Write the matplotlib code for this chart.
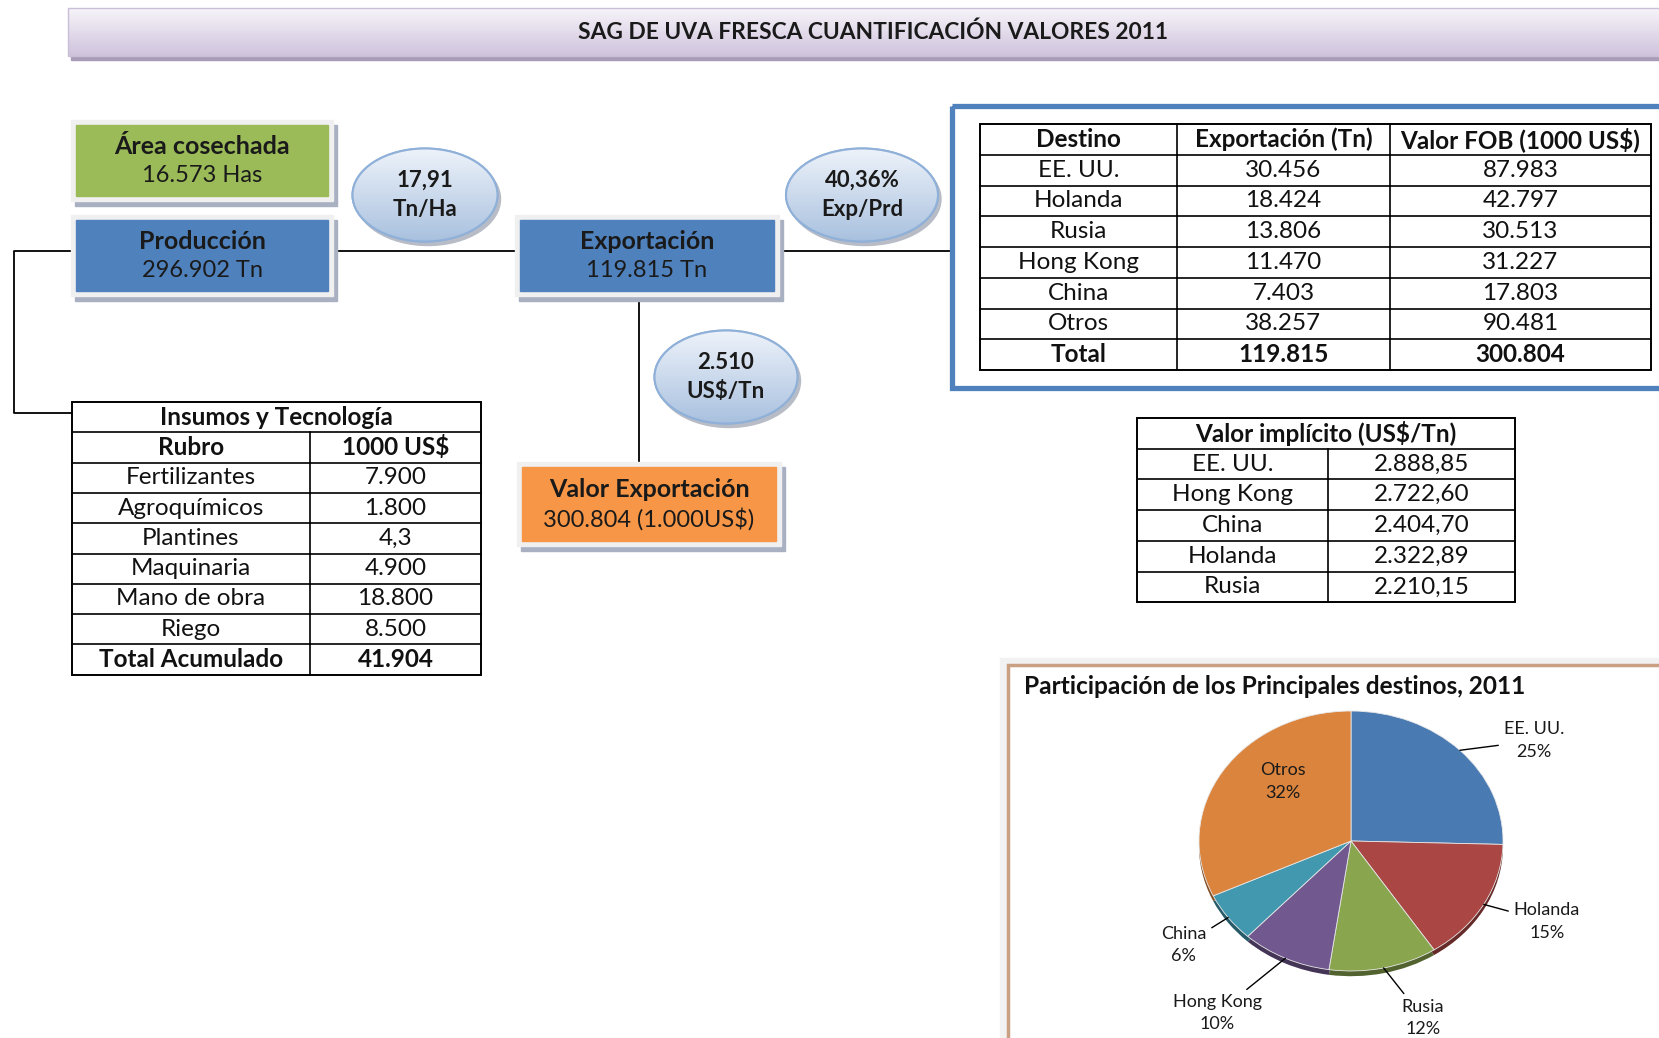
import numpy as np
import matplotlib.pyplot as plt
import matplotlib.colors as mcolors
from matplotlib.patches import Rectangle, Ellipse

plt.rcParams['font.family'] = ['Lato', 'DejaVu Sans']

W, H = 1659, 1038

# ---- data ----
titulo = 'SAG DE UVA FRESCA CUANTIFICACIÓN VALORES 2011'
area_cosechada = '16.573 Has'
produccion = '296.902 Tn'
exportacion = '119.815 Tn'
valor_exportacion = '300.804 (1.000US$)'
rendimiento = '17,91\nTn/Ha'
exp_prd = '40,36%\nExp/Prd'
precio = '2.510\nUS$/Tn'

destinos = ['EE. UU.', 'Holanda', 'Rusia', 'Hong Kong', 'China', 'Otros']
exp_tn = [30456, 18424, 13806, 11470, 7403, 38257]
fob = [87983, 42797, 30513, 31227, 17803, 90481]
total_exp = 119815
total_fob = 300804

rubros = ['Fertilizantes', 'Agroquímicos', 'Plantines', 'Maquinaria', 'Mano de obra', 'Riego']
montos = ['7.900', '1.800', '4,3', '4.900', '18.800', '8.500']
total_insumos = '41.904'

impl_dest = ['EE. UU.', 'Hong Kong', 'China', 'Holanda', 'Rusia']
impl_val = [2888.85, 2722.60, 2404.70, 2322.89, 2210.15]

pie_colors = ['#4a7ab2', '#aa4643', '#89a54e', '#71588f', '#4198af', '#db843d']
# label placement: radial distance and angle nudge (deg) per slice
label_dist = [1.43, 1.43, 1.44, 1.59, 1.36, 0.64]
label_nudge = [-11.6, 3.5, 6.8, -8, 0, -13]


def fmt_int(v):
    return f'{v:,}'.replace(',', '.')


def fmt_dec(v):
    return f'{v:,.2f}'.replace(',', 'X').replace('.', ',').replace('X', '.')


fig = plt.figure(figsize=(W / 100, H / 100), dpi=100)
ax = fig.add_axes([0, 0, 1, 1])


def gradient(patch, top, bottom, x0, x1, y0, y1, z):
    patch.set_zorder(z)
    ax.add_patch(patch)
    c0 = np.array(mcolors.to_rgb(top))
    c1 = np.array(mcolors.to_rgb(bottom))
    t = np.linspace(0, 1, 256)[:, None, None]
    img = c0 + (c1 - c0) * t
    im = ax.imshow(img, extent=(x0, x1, y1, y0), aspect='auto', origin='upper', zorder=z)
    im.set_clip_path(patch)


def box(x, y, w, h, color, title, value):
    ax.add_patch(Rectangle((x + 4, y + 5), w, h, color='#a9b0c2', zorder=2))
    ax.add_patch(Rectangle((x, y), w, h, color='#f0f0f0', zorder=3))
    ax.add_patch(Rectangle((x + 5, y + 5), w - 10, h - 10, color=color, zorder=4))
    ax.text(x + w / 2, y + h * 0.33, title, ha='center', va='center',
            fontsize=18, fontweight='bold', color='#1a1a1a', zorder=5)
    ax.text(x + w / 2, y + h * 0.68, value, ha='center', va='center',
            fontsize=17, color='#1a1a1a', zorder=5)


def bubble(cx, cy, w, h, text):
    ax.add_patch(Ellipse((cx + 3, cy + 4), w, h, color='#b8bcc6', zorder=2))
    e = Ellipse((cx, cy), w, h, facecolor='none', edgecolor='#8fb0d8', lw=1.5)
    gradient(e, '#eef3fa', '#a9c1df', cx - w / 2, cx + w / 2, cy - h / 2, cy + h / 2, 3)
    ax.add_patch(Ellipse((cx, cy), w, h, facecolor='none', edgecolor='#8fb0d8', lw=1.5, zorder=4))
    ax.text(cx, cy, text, ha='center', va='center', fontsize=16, fontweight='bold',
            color='#1a1a1a', linespacing=1.45, zorder=5)


def table(xs, y0, rh, rows, bold_rows, fs=17.5):
    n = len(rows)
    ax.add_patch(Rectangle((xs[0], y0), xs[-1] - xs[0], n * rh, fill=False, lw=1.4,
                           ec='black', zorder=5))
    for i, row in enumerate(rows):
        yt = y0 + i * rh
        wt = 'bold' if i in bold_rows else 'normal'
        if i > 0:
            ax.plot([xs[0], xs[-1]], [yt, yt], color='black', lw=1.2, zorder=5)
        if len(row) == 1:
            ax.text((xs[0] + xs[-1]) / 2, yt + rh / 2, row[0], ha='center', va='center',
                    fontsize=fs, fontweight=wt, color='#111111', zorder=6)
            continue
        for j, cell in enumerate(row):
            if j > 0:
                ax.plot([xs[j], xs[j]], [yt, yt + rh], color='black', lw=1.2, zorder=5)
            ax.text((xs[j] + xs[j + 1]) / 2, yt + rh / 2, cell, ha='center', va='center',
                    fontsize=fs, fontweight=wt, color='#111111', zorder=6)


# ---- banner ----
ax.add_patch(Rectangle((71, 11), W, 49, color='#a89cb8', zorder=1))
banner = Rectangle((68, 8), W, 48, facecolor='none')
gradient(banner, '#f7f4f9', '#cfc3dd', 68, W, 8, 56, 2)
ax.add_patch(Rectangle((68, 8), W, 48, fill=False, ec='#c9bfd6', lw=1, zorder=3))
ax.text(873, 32, titulo, ha='center', va='center', fontsize=16.4, fontweight='bold',
        color='#1a1a1a', zorder=4)

# ---- connectors ----
ax.plot([334, 515], [251, 251], color='black', lw=1.3, zorder=1)
ax.plot([780, 952], [251, 251], color='black', lw=1.3, zorder=1)
ax.plot([71, 14, 14, 72], [251, 251, 413, 413], color='black', lw=1.3, zorder=1)
ax.plot([639, 639], [297, 462], color='black', lw=1.3, zorder=1)

# ---- boxes and bubbles ----
box(71, 120, 262, 81, '#9bbb59', 'Área cosechada', area_cosechada)
box(71, 215, 262, 81, '#4f81bd', 'Producción', produccion)
box(515, 215, 264, 81, '#4f81bd', 'Exportación', exportacion)
box(517, 462, 264, 84, '#f79646', 'Valor Exportación', valor_exportacion)
bubble(425, 195, 145, 93, rendimiento)
bubble(862, 195, 152, 93, exp_prd)
bubble(726, 377, 143, 93, precio)

# ---- export table ----
ax.add_patch(Rectangle((952, 106), 760, 282, fill=False, ec='#4f81bd', lw=3.8, zorder=4))
exp_rows = [['Destino', 'Exportación (Tn)', 'Valor FOB (1000 US$)']]
exp_rows += [[d, fmt_int(e), fmt_int(f)] for d, e, f in zip(destinos, exp_tn, fob)]
exp_rows += [['Total', fmt_int(total_exp), fmt_int(total_fob)]]
table([980, 1177, 1390, 1651], 124, 30.75, exp_rows, {0, len(exp_rows) - 1})

# ---- insumos table ----
ins_rows = [['Insumos y Tecnología'], ['Rubro', '1000 US$']]
ins_rows += [[r, m] for r, m in zip(rubros, montos)]
ins_rows += [['Total Acumulado', total_insumos]]
table([72, 310, 481], 402, 30.3, ins_rows, {0, 1, len(ins_rows) - 1})

# ---- valor implicito ----
impl_rows = [['Valor implícito (US$/Tn)']]
impl_rows += [[d, fmt_dec(v)] for d, v in zip(impl_dest, impl_val)]
table([1137, 1328, 1515], 418, 30.7, impl_rows, {0})

# ---- pie chart frame ----
ax.add_patch(Rectangle((1000, 658), 700, 400, color='#f2f2f2', zorder=1))
ax.add_patch(Rectangle((1008, 665), 700, 400, facecolor='white', ec='#c9a081', lw=2.5, zorder=2))
ax.text(1024, 687, 'Participación de los Principales destinos, 2011', ha='left',
        va='center', fontsize=17.6, fontweight='bold', color='#111111', zorder=3)

ax.set_xlim(0, W)
ax.set_ylim(H, 0)
ax.axis('off')

cx, cy, rx, ry = 1351, 841, 152, 130
pax = fig.add_axes([(cx - rx) / W, 1 - (cy + ry) / H, 2 * rx / W, 2 * ry / H])
dark = [tuple(np.array(mcolors.to_rgb(c)) * 0.6) for c in pie_colors]
pax.pie(exp_tn, colors=dark, startangle=90, counterclock=False, center=(0, -0.04),
        wedgeprops=dict(lw=0))
wedges, _ = pax.pie(exp_tn, colors=pie_colors, startangle=90, counterclock=False,
                    wedgeprops=dict(lw=0.6, edgecolor='#e8e8e8'))
pax.set_aspect('auto')
pax.set_xlim(-1, 1)
pax.set_ylim(-1, 1)
pax.axis('off')

total = sum(exp_tn)
for w, name, v, d, nud in zip(wedges, destinos, exp_tn, label_dist, label_nudge):
    mid = np.deg2rad((w.theta1 + w.theta2) / 2)
    ang = mid + np.deg2rad(nud)
    txt = f'{name}\n{round(100 * v / total)}%'
    tx, ty = d * np.cos(ang), d * np.sin(ang)
    if d < 1:
        pax.text(tx, ty, txt, ha='center', va='center', fontsize=13, color='#1a1a1a',
                 linespacing=1.5)
    else:
        pax.annotate(txt, xy=(np.cos(mid), np.sin(mid)), xytext=(tx, ty), ha='center',
                     va='center', fontsize=13, color='#1a1a1a', linespacing=1.5,
                     arrowprops=dict(arrowstyle='-', color='black', lw=1,
                                     shrinkA=2, shrinkB=0))

fig.savefig('out.png', dpi=100)
